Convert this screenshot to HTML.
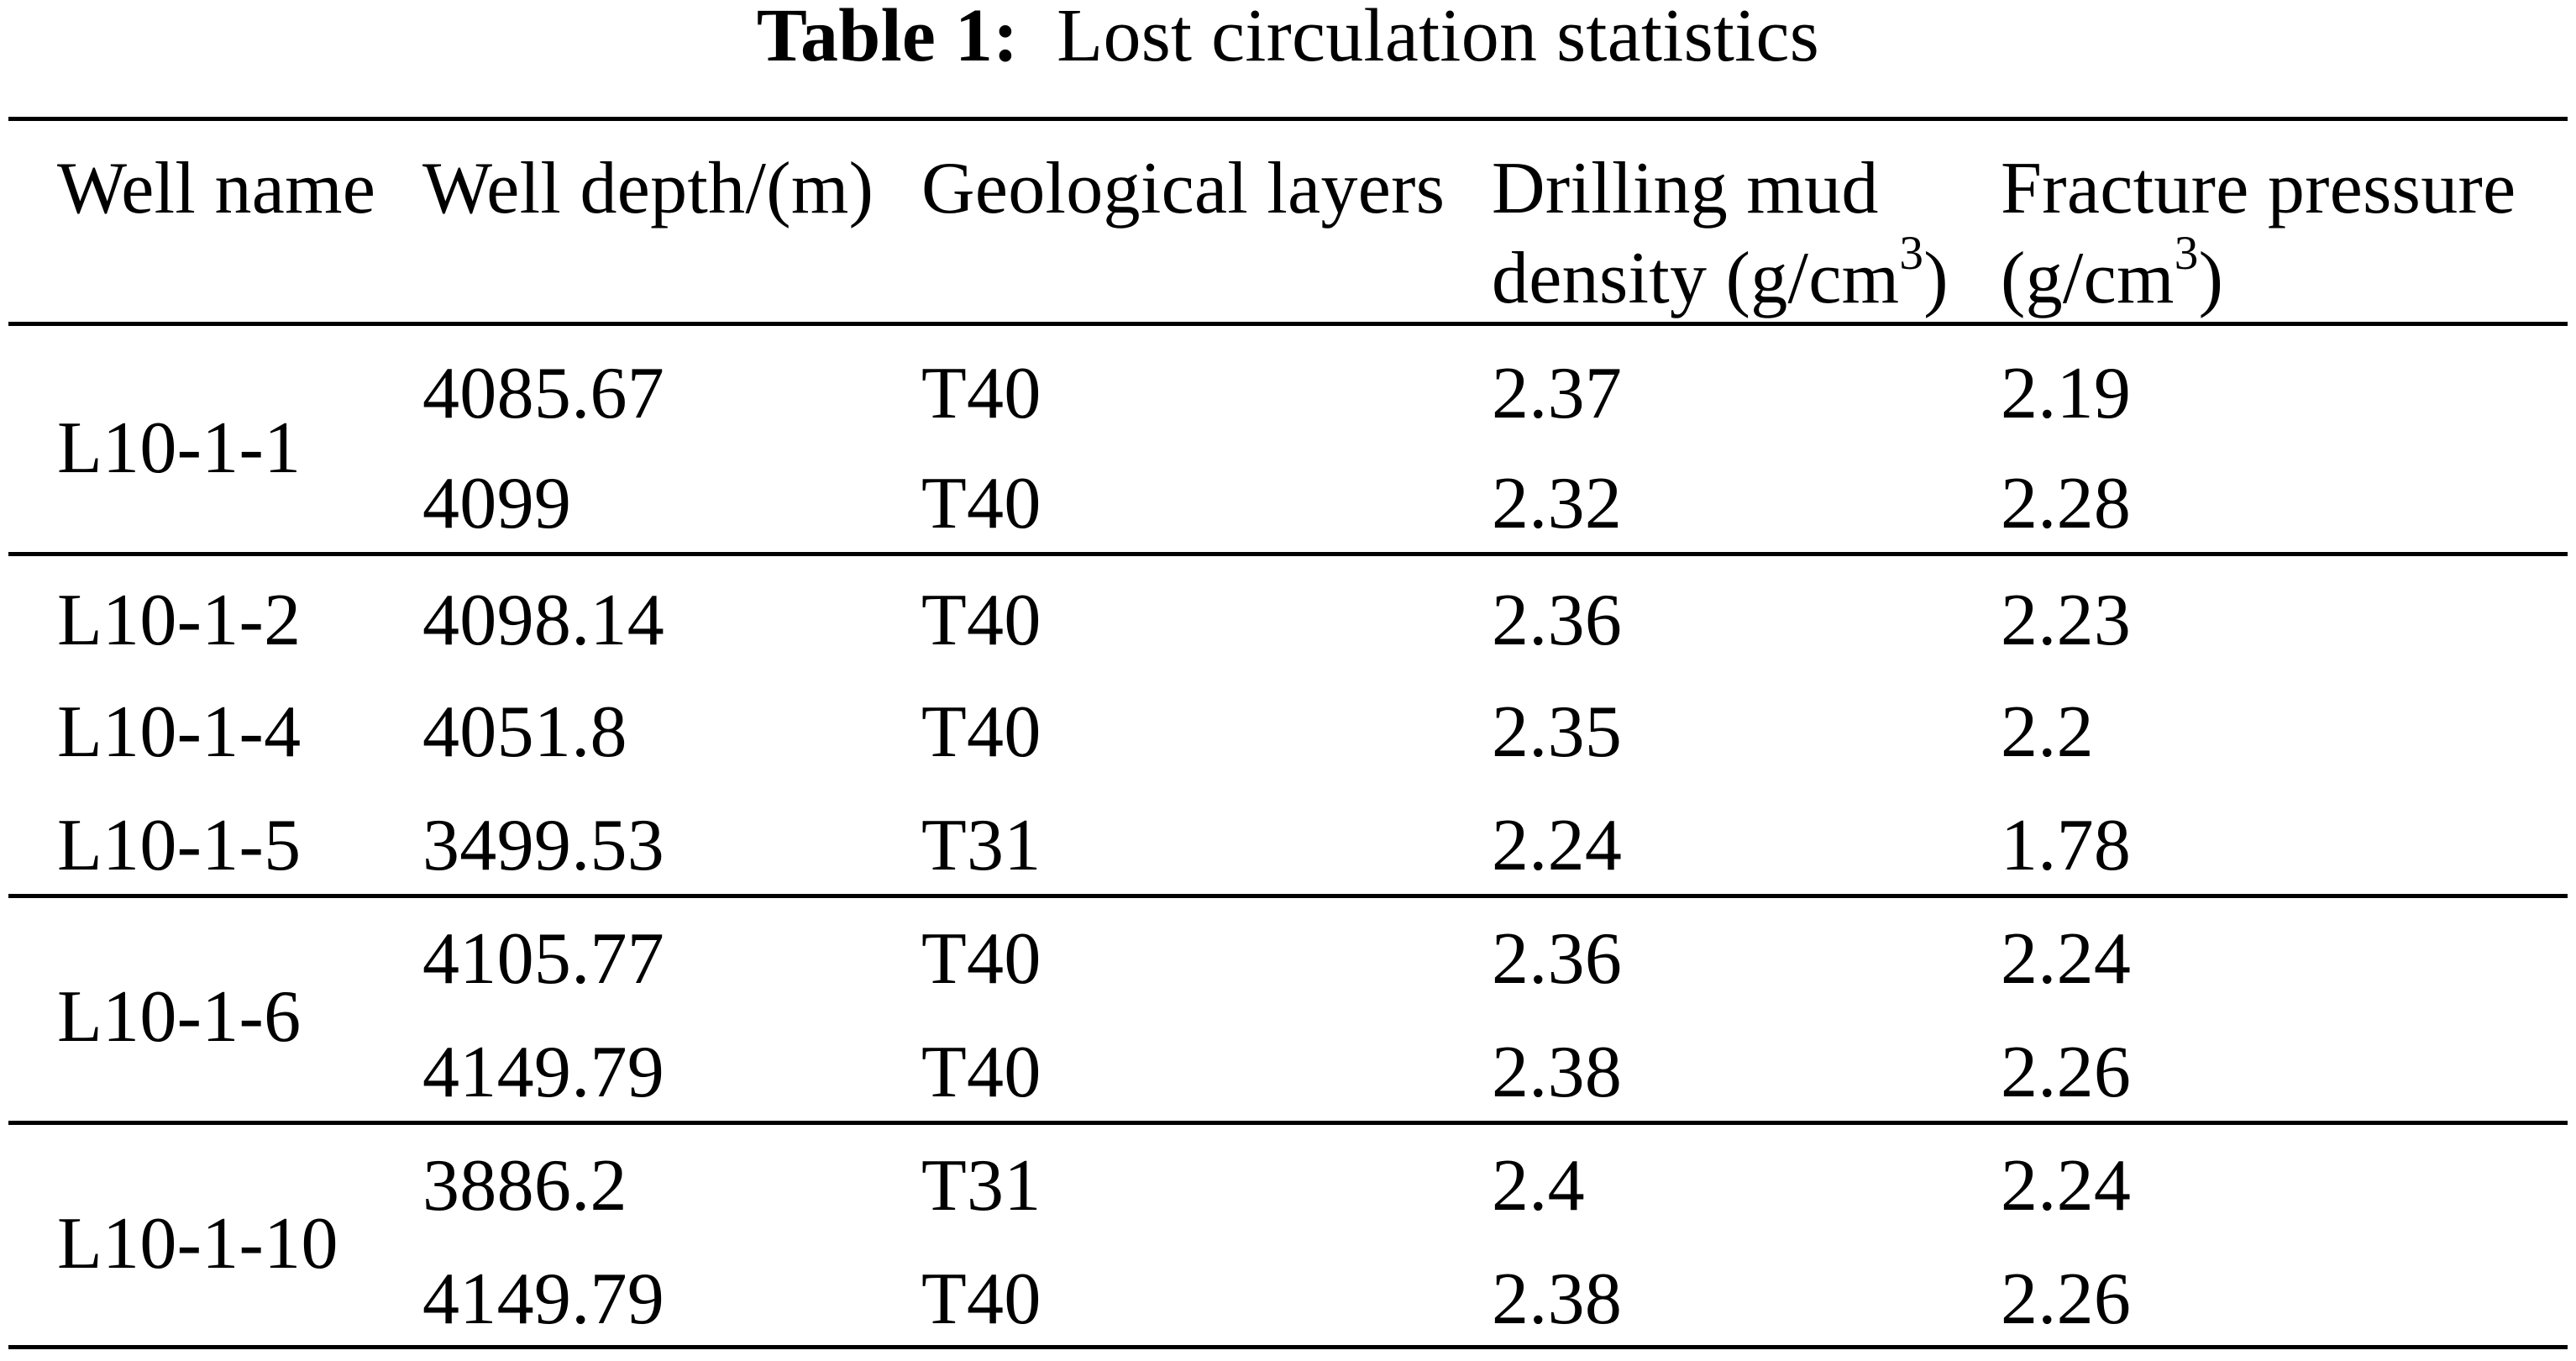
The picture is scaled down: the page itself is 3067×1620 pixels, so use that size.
<!DOCTYPE html>
<html><head><meta charset="utf-8"><style>
html,body{margin:0;padding:0;background:#fff}
body{width:3067px;height:1620px;position:relative;overflow:hidden;font-family:"Liberation Serif",serif;color:#000}
.t{position:absolute;font-size:88px;line-height:1;white-space:nowrap;transform:translateY(-50%);letter-spacing:0.3px}
.l{position:absolute;left:10px;width:3047px;height:5px;background:#000}
sup{font-size:65%;vertical-align:0;position:relative;top:-0.7em}
</style></head><body>
<div class="t" style="left:50%;top:43px;transform:translate(-50%,-50%);font-size:90px"><b>Table 1:</b>&nbsp; Lost circulation statistics</div>
<div class="l" style="top:139px"></div>
<div class="l" style="top:383px"></div>
<div class="l" style="top:657px"></div>
<div class="l" style="top:1064px"></div>
<div class="l" style="top:1334px"></div>
<div class="l" style="top:1601px"></div>
<script>
const cols=[68,503,1097,1776,2382];
const rowY=[469,600,739,872,1007,1142,1277,1412,1547];
const depths=["4085.67","4099","4098.14","4051.8","3499.53","4105.77","4149.79","3886.2","4149.79"];
const layers=["T40","T40","T40","T40","T31","T40","T40","T31","T40"];
const mud=["2.37","2.32","2.36","2.35","2.24","2.36","2.38","2.4","2.38"];
const frac=["2.19","2.28","2.23","2.2","1.78","2.24","2.26","2.24","2.26"];
const wells=["L10-1-1","L10-1-2","L10-1-4","L10-1-5","L10-1-6","L10-1-10"];
const wellY=[534,739,872,1007,1211,1481];
const body=document.body;
function add(txt,x,y,name,html){
  const d=document.createElement('div');
  d.className='t';
  d.style.left=x+'px';d.style.top=y+'px';
  if(html)d.innerHTML=txt;else d.textContent=txt;
  
  
  body.appendChild(d);
}
add("Well name",cols[0],225,"header-well-name");
add("Well depth/(m)",cols[1],225,"header-well-depth");
add("Geological layers",cols[2],225,"header-geological-layers");
add("Drilling mud",cols[3],225,"header-drilling-mud");
add("density (g/cm<sup>3</sup>)",cols[3],332,"header-density",true);
add("Fracture pressure",cols[4],225,"header-fracture-pressure");
add("(g/cm<sup>3</sup>)",cols[4],332,"header-fracture-unit",true);
wells.forEach((w,i)=>add(w,cols[0],wellY[i],"well-name-cell"));
depths.forEach((v,i)=>{
  add(v,cols[1],rowY[i],"depth-cell");
  add(layers[i],cols[2],rowY[i],"layer-cell");
  add(mud[i],cols[3],rowY[i],"mud-density-cell");
  add(frac[i],cols[4],rowY[i],"fracture-pressure-cell");
});
</script>
</body></html>
